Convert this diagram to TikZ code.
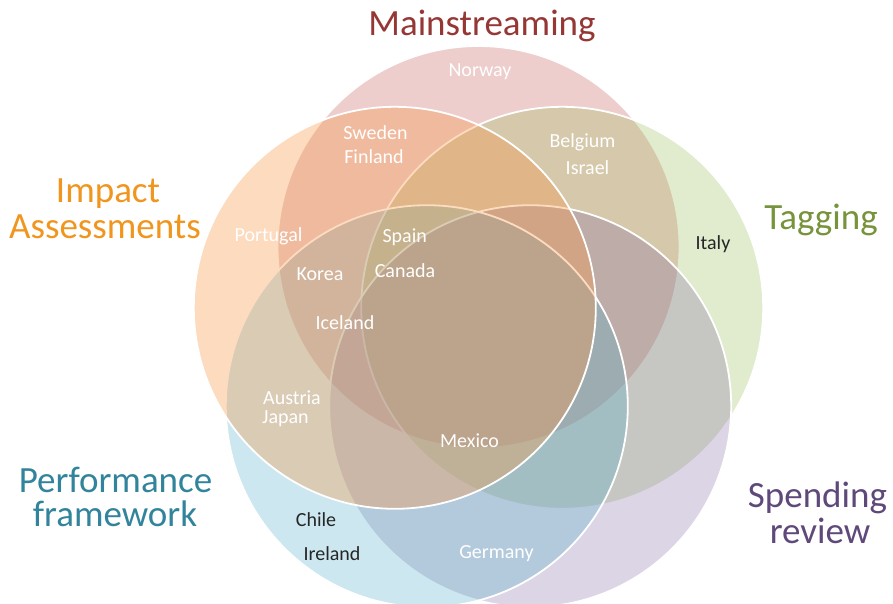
\documentclass[tikz,border=0pt]{standalone}
\usepackage{fontspec}
\setmainfont{Carlito}
\definecolor{cM}{HTML}{C0504D}
\definecolor{cT}{HTML}{9BBB59}
\definecolor{cS}{HTML}{8064A2}
\definecolor{cP}{HTML}{4BACC6}
\definecolor{cI}{HTML}{F79646}
\definecolor{tM}{HTML}{953735}
\definecolor{tT}{HTML}{77933C}
\definecolor{tS}{HTML}{5F497A}
\definecolor{tP}{HTML}{31849B}
\definecolor{tI}{HTML}{F0961E}
\definecolor{darktext}{HTML}{262626}
\tikzset{
  venn/.style={draw=white, line width=1.8pt, draw opacity=1},
  title/.style={font=\fontsize{37}{44}\selectfont, anchor=base, inner sep=0pt},
  country/.style={font=\fontsize{20}{24}\selectfont, text=white, anchor=base, inner sep=0pt},
  darkcountry/.style={country, text=darktext}
}
\begin{document}
\begin{tikzpicture}[x=1pt,y=-1pt]
\useasboundingbox (0,0) rectangle (893,603);
\fill[white] (0,0) rectangle (893,603);
\begin{scope}
\clip (0,0) rectangle (893,603);
\draw[venn, fill=cM, fill opacity=0.28] (478.5,247) circle (201pt);
\draw[venn, fill=cT, fill opacity=0.29] (562.2,307.8) circle (201pt);
\draw[venn, fill=cS, fill opacity=0.27] (530.2,406.2) circle (201pt);
\draw[venn, fill=cP, fill opacity=0.28] (426.8,406.2) circle (201pt);
\draw[venn, fill=cI, fill opacity=0.34] (394.8,307.8) circle (201pt);
\end{scope}
% titles
\node[title, text=tM] (tmain) at (482,35) {Mainstreaming};
\node[title, text=tI] (timp1) at (108,202) {Impact};
\node[title, text=tI] (timp2) at (105,238) {Assessments};
\node[title, text=tT] (ttag) at (821,229) {Tagging};
\node[title, text=tP] (tperf1) at (115.5,492) {Performance};
\node[title, text=tP] (tperf2) at (115,526) {framework};
\node[title, text=tS] (tspend1) at (817.5,507) {Spending};
\node[title, text=tS] (tspend2) at (820,543) {review};
% countries
\node[country] (norway) at (480,76) {Norway};
\node[country] (sweden) at (375.5,139) {Sweden};
\node[country] (finland) at (374,163) {Finland};
\node[country] (belgium) at (582.5,147) {Belgium};
\node[country] (israel) at (587.5,174) {Israel};
\node[country] (portugal) at (268.5,241) {Portugal};
\node[country] (spain) at (404.7,242) {Spain};
\node[darkcountry] (italy) at (713,249) {Italy};
\node[country] (korea) at (320,280) {Korea};
\node[country] (canada) at (405,277) {Canada};
\node[country] (iceland) at (345,329) {Iceland};
\node[country, anchor=base west] (austria) at (263,404) {Austria};
\node[country, anchor=base west] (japan) at (262,423) {Japan};
\node[country] (mexico) at (469.5,447) {Mexico};
\node[darkcountry] (chile) at (316,526) {Chile};
\node[darkcountry] (ireland) at (332,560) {Ireland};
\node[country] (germany) at (496.5,558) {Germany};
\end{tikzpicture}
\end{document}
